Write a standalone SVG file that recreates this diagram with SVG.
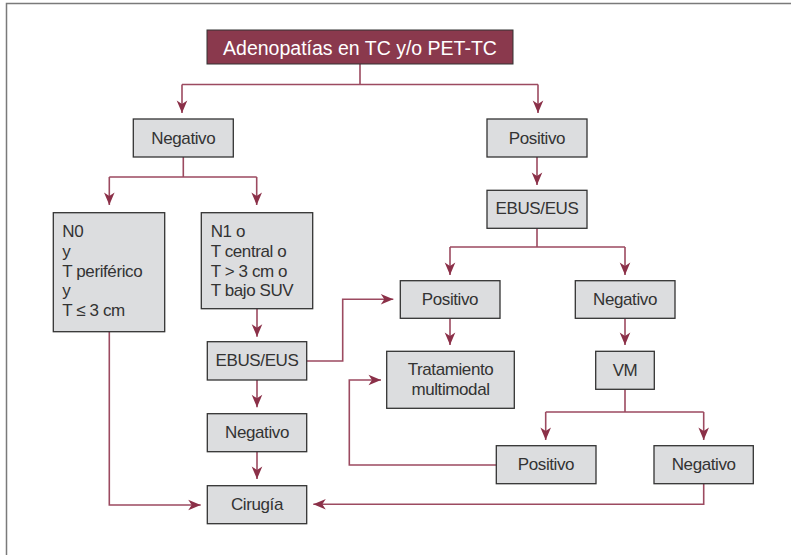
<svg xmlns="http://www.w3.org/2000/svg" width="791" height="555" viewBox="0 0 791 555">
<defs>
<style>
.box{fill:#dcdddf;stroke:#333;stroke-width:1.3}
.t{font-family:"Liberation Sans",Arial,sans-serif;font-size:17px;letter-spacing:-0.4px;fill:#333}
.c{text-anchor:middle}
.ln{fill:none;stroke:#9c4a60;stroke-width:1.6}
.ar{marker-end:url(#ah)}
</style>
<marker id="ah" markerUnits="userSpaceOnUse" viewBox="-13 -6 14 12" markerWidth="14" markerHeight="12" refX="0" refY="0" orient="auto">
<path d="M0,0 L-12.5,-5.3 L-9,0 L-12.5,5.3 Z" fill="#8b3048"/>
</marker>
</defs>
<rect width="791" height="555" fill="#fff"/>
<rect x="6.5" y="3.5" width="820" height="600" fill="none" stroke="#7a7a7a" stroke-width="1.5"/>

<g id="connectors">
<path class="ln" d="M360,64 V84.5 M182,84.5 H538"/>
<path class="ln ar" d="M182,84.5 V113"/>
<path class="ln ar" d="M538,84.5 V113"/>
<path class="ln ar" d="M537,157 V185"/>
<path class="ln" d="M537,228.3 V247 M450,247 H625"/>
<path class="ln ar" d="M450,247 V275"/>
<path class="ln ar" d="M625,247 V275"/>
<path class="ln" d="M183.3,157 V177 M109.3,177 H256.7"/>
<path class="ln ar" d="M109.3,177 V205"/>
<path class="ln ar" d="M256.7,177 V205"/>
<path class="ln ar" d="M257,308.7 V336.7"/>
<path class="ln ar" d="M257,380 V407.3"/>
<path class="ln ar" d="M257,451.7 V479"/>
<path class="ln ar" d="M109.3,331.7 V505 H200.7"/>
<path class="ln ar" d="M306.7,361 H342.7 V299.3 H393.3"/>
<path class="ln ar" d="M450,318.3 V345"/>
<path class="ln ar" d="M625,318.3 V345"/>
<path class="ln" d="M625,389.3 V412 M545.7,412 H703.7"/>
<path class="ln ar" d="M545.7,412 V440"/>
<path class="ln ar" d="M703.7,412 V440"/>
<path class="ln ar" d="M496.3,465 H349.3 V380 H381"/>
<path class="ln ar" d="M703.7,483.7 V504.3 H313.3"/>
</g>

<g id="title">
<rect x="207" y="30" width="306" height="34" fill="#8a394d" stroke="#333" stroke-width="1"/>
<text x="360" y="54.5" text-anchor="middle" font-family="'Liberation Sans',Arial,sans-serif" font-size="19.5" fill="#fff">Adenopatías en TC y/o PET-TC</text>
</g>

<g id="negativo1">
<rect class="box" x="133.3" y="119" width="100" height="38"/>
<text class="t c" x="183.3" y="143.5">Negativo</text>
</g>
<g id="positivo1">
<rect class="box" x="487" y="119" width="100" height="38"/>
<text class="t c" x="537" y="143.5">Positivo</text>
</g>
<g id="ebus1">
<rect class="box" x="487" y="190.3" width="100" height="38"/>
<text class="t c" x="537" y="214">EBUS/EUS</text>
</g>
<g id="n0">
<rect class="box" x="53.3" y="212.7" width="111.4" height="119"/>
<text class="t" x="62.3" y="237">N0</text>
<text class="t" x="62.3" y="256.8">y</text>
<text class="t" x="62.3" y="276.6">T periférico</text>
<text class="t" x="62.3" y="296.4">y</text>
<text class="t" x="62.3" y="316.2">T ≤ 3 cm</text>
</g>
<g id="n1">
<rect class="box" x="201.3" y="212.7" width="111.4" height="96"/>
<text class="t" x="210.7" y="237">N1 o</text>
<text class="t" x="210.7" y="256.8">T central o</text>
<text class="t" x="210.7" y="276.6">T &gt; 3 cm o</text>
<text class="t" x="210.7" y="296.4">T bajo SUV</text>
</g>
<g id="ebus2">
<rect class="box" x="207.3" y="341.7" width="99.4" height="38.3"/>
<text class="t c" x="257" y="366">EBUS/EUS</text>
</g>
<g id="negativo2">
<rect class="box" x="207.3" y="413.7" width="99.4" height="38"/>
<text class="t c" x="257" y="438">Negativo</text>
</g>
<g id="cirugia">
<rect class="box" x="207.3" y="485.7" width="99.4" height="38"/>
<text class="t c" x="257" y="510">Cirugía</text>
</g>
<g id="positivo2">
<rect class="box" x="400.3" y="280.7" width="99.7" height="37.6"/>
<text class="t c" x="450" y="305">Positivo</text>
</g>
<g id="negativo3">
<rect class="box" x="575.3" y="280.7" width="99.7" height="37.6"/>
<text class="t c" x="625" y="305">Negativo</text>
</g>
<g id="tratamiento">
<rect class="box" x="386.7" y="351.3" width="127.6" height="57"/>
<text class="t c" x="450.5" y="375">Tratamiento</text>
<text class="t c" x="450.5" y="395">multimodal</text>
</g>
<g id="vm">
<rect class="box" x="595.7" y="351.3" width="58.6" height="38"/>
<text class="t c" x="625" y="375.5">VM</text>
</g>
<g id="positivo3">
<rect class="box" x="496.3" y="445.7" width="99.7" height="38"/>
<text class="t c" x="546" y="470">Positivo</text>
</g>
<g id="negativo4">
<rect class="box" x="654" y="445.7" width="99.3" height="38"/>
<text class="t c" x="703.7" y="470">Negativo</text>
</g>
</svg>
